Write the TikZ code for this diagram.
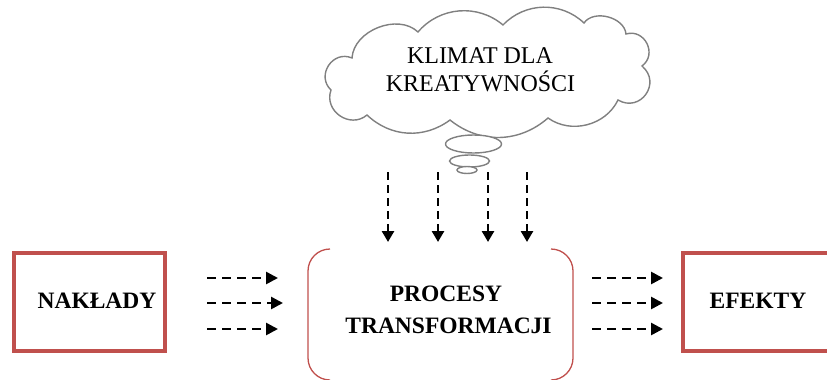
\documentclass[tikz,border=0pt]{standalone}
\usepackage{fontspec}
\setmainfont{Liberation Serif}
\usetikzlibrary{arrows.meta}
\definecolor{boxred}{RGB}{192,80,77}
\definecolor{cloudgray}{RGB}{128,128,128}

\begin{document}
\begin{tikzpicture}[x=1pt,y=1pt,
  flow/.style={line width=2.6pt, dash pattern=on 9pt off 6pt,
    -{Triangle[length=12pt,width=12pt]}},
  drop/.style={line width=2.6pt, dash pattern=on 8pt off 5pt,
    -{Triangle[length=11pt,width=12pt]}},
  endbox/.style={draw=boxred, line width=4pt, inner sep=0pt,
    minimum width=151pt, minimum height=98pt},
  bracket/.style={draw=boxred, line width=1.3pt},
  boldtext/.style={font=\bfseries\fontsize{23.5}{28}\selectfont, inner sep=0pt, anchor=base},
  cloudtext/.style={font=\fontsize{24}{28}\selectfont, inner sep=0pt, anchor=base},
  cloudline/.style={draw=cloudgray, line width=1.4pt, fill=white},
]
\useasboundingbox (0,0) rectangle (827,-380);
\clip (0,0) rectangle (827,-380);

% input and output boxes
\node[endbox] (inbox) at (89.2,-302) {};
\node[boldtext] (intext) at (97,-308.5) {NAKŁADY};
\node[endbox] (outbox) at (758,-302) {};
\node[boldtext] (outtext) at (758,-308) {EFEKTY};

% transformation process: two rounded brackets
\node[minimum width=265pt, minimum height=131pt] (proc) at (440.5,-314.5) {};
\draw[bracket] (330,-249) arc[start angle=90, end angle=180, radius=22]
  -- (308,-358) arc[start angle=180, end angle=270, radius=22];
\draw[bracket] (551,-249) arc[start angle=90, end angle=0, radius=22]
  -- (573,-358) arc[start angle=0, end angle=-90, radius=22];
\node[boldtext] (proc1) at (446,-301) {PROCESY};
\node[boldtext] (proc2) at (448.5,-333) {TRANSFORMACJI};

% cloud outline through its cusps
\coordinate (c1) at (331,-90);
\coordinate (c2) at (352,-58);
\coordinate (c3) at (418,-32);
\coordinate (c4) at (503,-25);
\coordinate (c5) at (584,-23);
\coordinate (c6) at (626,-34);
\coordinate (c7) at (642,-66);
\coordinate (c8) at (618,-100);
\coordinate (c9) at (548,-118);
\coordinate (c10) at (450,-120);
\coordinate (c11) at (367,-115);
\path[cloudline] (c1) to[bend left=80, looseness=1.4] (c2)
  to[bend left=65] (c3)
  to[bend left=45] (c4)
  to[bend left=45] (c5)
  to[bend left=70] (c6)
  to[bend left=80, looseness=1.4] (c7)
  to[bend left=85, looseness=1.6] (c8)
  to[bend left=50] (c9)
  to[bend left=40] (c10)
  to[bend left=40] (c11)
  to[bend left=75, looseness=1.3] (c1) -- cycle;
\node[cloudtext] (climate1) at (480,-63) {KLIMAT DLA};
\node[cloudtext] (climate2) at (480.5,-91.5) {KREATYWNOŚCI};

% thought bubbles
\draw[cloudline] (473.5,-144) ellipse[x radius=28, y radius=9];
\draw[cloudline] (469.5,-161) ellipse[x radius=20, y radius=6];
\draw[cloudline] (467,-170) ellipse[x radius=10, y radius=3.5];

% arrow end points
\foreach \y [count=\i] in {-278,-303,-329}{
  \coordinate (la\i) at (207,\y);
  \coordinate (ra\i) at (592,\y);
  \coordinate (rb\i) at (663,\y);
}
\coordinate (lb1) at (278,-278);
\coordinate (lb2) at (283,-303);
\coordinate (lb3) at (278,-329);
\foreach \x [count=\i] in {388,438,488,527}{
  \coordinate (da\i) at (\x,-172);
  \coordinate (db\i) at (\x,-242);
}

\foreach \i in {1,2,3}{
  \draw[flow] (la\i) -- (lb\i);
  \draw[flow] (ra\i) -- (rb\i);
}
\foreach \i in {1,2,3,4}{
  \draw[drop] (da\i) -- (db\i);
}
\end{tikzpicture}
\end{document}
